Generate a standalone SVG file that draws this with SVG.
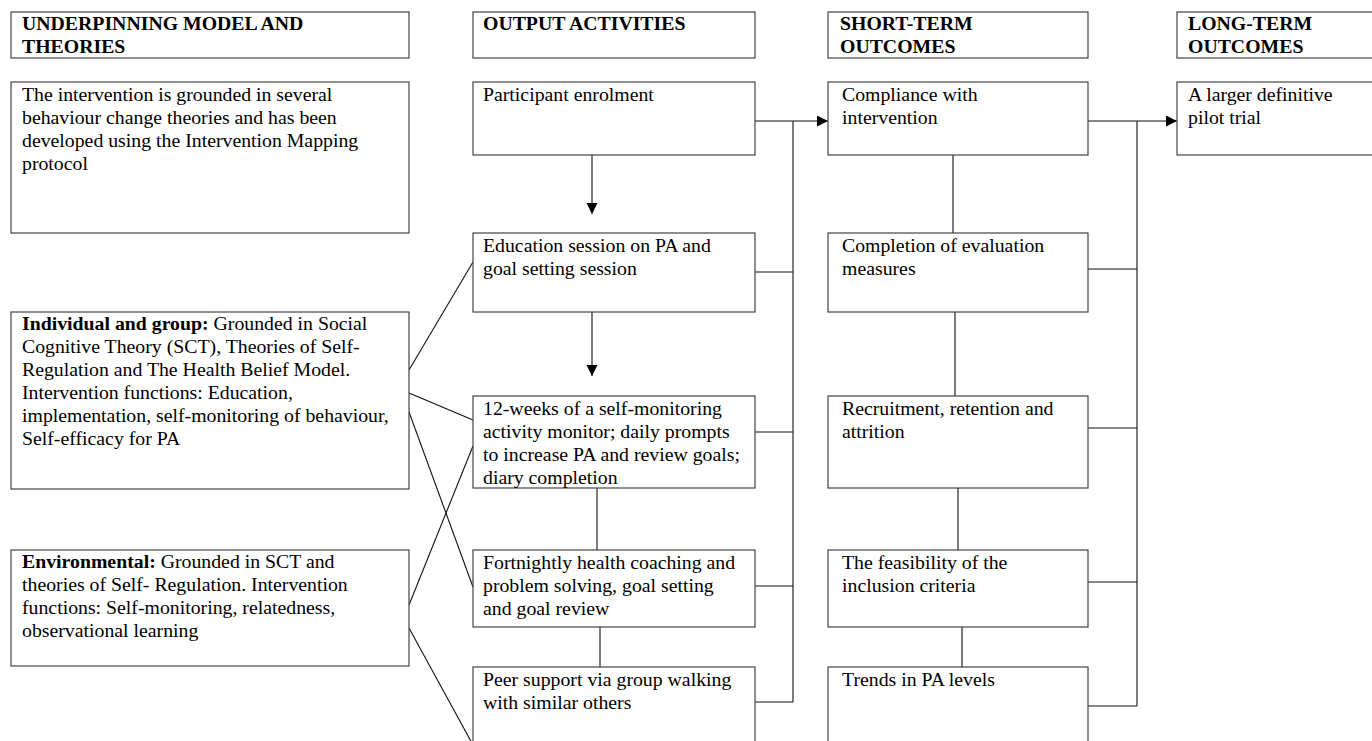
<svg xmlns="http://www.w3.org/2000/svg" width="1372" height="741" viewBox="0 0 1372 741">
<defs>
<marker id="ah" markerUnits="userSpaceOnUse" markerWidth="12" markerHeight="12" refX="11" refY="5.5" orient="auto">
<path d="M0,0 L11,5.5 L0,11 z" fill="#000"/>
</marker>
<style>
.box{fill:#fff;stroke:#444;stroke-width:1.2}
.t{font-family:"Liberation Serif","Times New Roman",serif;font-size:19.8px;fill:#000}
.h{font-weight:bold}
.c{stroke:#111;stroke-width:1.1;fill:none}
</style>
</defs>
<rect width="1372" height="741" fill="#fff"/>

<g id="connectors">
<line class="c" x1="755" y1="121" x2="828" y2="121" marker-end="url(#ah)"/>
<line class="c" x1="793" y1="121" x2="793" y2="702"/>
<line class="c" x1="755" y1="272" x2="793" y2="272"/>
<line class="c" x1="755" y1="432" x2="793" y2="432"/>
<line class="c" x1="755" y1="586" x2="793" y2="586"/>
<line class="c" x1="755" y1="702" x2="793" y2="702"/>
<line class="c" x1="592" y1="155" x2="592" y2="214" marker-end="url(#ah)"/>
<line class="c" x1="592" y1="312" x2="592" y2="376" marker-end="url(#ah)"/>
<line class="c" x1="597" y1="488" x2="597" y2="550"/>
<line class="c" x1="600" y1="627" x2="600" y2="667"/>
<line class="c" x1="1088" y1="121" x2="1177" y2="121" marker-end="url(#ah)"/>
<line class="c" x1="1137" y1="121" x2="1137" y2="706"/>
<line class="c" x1="1088" y1="269" x2="1137" y2="269"/>
<line class="c" x1="1088" y1="428" x2="1137" y2="428"/>
<line class="c" x1="1088" y1="582" x2="1137" y2="582"/>
<line class="c" x1="1088" y1="706" x2="1137" y2="706"/>
<line class="c" x1="953" y1="155" x2="953" y2="233"/>
<line class="c" x1="955" y1="312" x2="955" y2="396"/>
<line class="c" x1="958" y1="488" x2="958" y2="550"/>
<line class="c" x1="962" y1="627" x2="962" y2="667"/>
<line class="c" x1="409" y1="370" x2="473" y2="262"/>
<line class="c" x1="409" y1="393" x2="473" y2="420"/>
<line class="c" x1="409" y1="412" x2="473" y2="587"/>
<line class="c" x1="409" y1="605" x2="473" y2="446"/>
<line class="c" x1="409" y1="628" x2="473" y2="745"/>
</g>

<g id="hdr-underpinning">
<rect class="box" x="11" y="12" width="398" height="46"/>
<text class="t h" x="22" y="30">UNDERPINNING MODEL AND</text>
<text class="t h" x="22" y="53">THEORIES</text>
</g>
<g id="hdr-output">
<rect class="box" x="473" y="12" width="282" height="46"/>
<text class="t h" x="483" y="30">OUTPUT ACTIVITIES</text>
</g>
<g id="hdr-short">
<rect class="box" x="828" y="12" width="260" height="46"/>
<text class="t h" x="840" y="30">SHORT-TERM</text>
<text class="t h" x="840" y="53">OUTCOMES</text>
</g>
<g id="hdr-long">
<rect class="box" x="1177" y="12" width="210" height="46"/>
<text class="t h" x="1188" y="30">LONG-TERM</text>
<text class="t h" x="1188" y="53">OUTCOMES</text>
</g>

<g id="intro">
<rect class="box" x="11" y="82" width="398" height="151"/>
<text class="t" x="22" y="101">The intervention is grounded in several</text>
<text class="t" x="22" y="124">behaviour change theories and has been</text>
<text class="t" x="22" y="147">developed using the Intervention Mapping</text>
<text class="t" x="22" y="170">protocol</text>
</g>
<g id="individual">
<rect class="box" x="11" y="312" width="398" height="177"/>
<text class="t" x="22" y="330"><tspan class="h">Individual and group:</tspan> Grounded in Social</text>
<text class="t" x="22" y="353">Cognitive Theory (SCT), Theories of Self-</text>
<text class="t" x="22" y="376">Regulation and The Health Belief Model.</text>
<text class="t" x="22" y="399">Intervention functions: Education,</text>
<text class="t" x="22" y="422">implementation, self-monitoring of behaviour,</text>
<text class="t" x="22" y="445">Self-efficacy for PA</text>
</g>
<g id="environmental">
<rect class="box" x="11" y="550" width="398" height="116"/>
<text class="t" x="22" y="568"><tspan class="h">Environmental:</tspan> Grounded in SCT and</text>
<text class="t" x="22" y="591">theories of Self- Regulation. Intervention</text>
<text class="t" x="22" y="614">functions: Self-monitoring, relatedness,</text>
<text class="t" x="22" y="637">observational learning</text>
</g>

<g id="enrolment">
<rect class="box" x="473" y="82" width="282" height="73"/>
<text class="t" x="483" y="101">Participant enrolment</text>
</g>
<g id="education">
<rect class="box" x="473" y="233" width="282" height="79"/>
<text class="t" x="483" y="252">Education session on PA and</text>
<text class="t" x="483" y="275">goal setting session</text>
</g>
<g id="monitoring">
<rect class="box" x="473" y="396" width="282" height="92"/>
<text class="t" x="483" y="415">12-weeks of a self-monitoring</text>
<text class="t" x="483" y="438">activity monitor; daily prompts</text>
<text class="t" x="483" y="461">to increase PA and review goals;</text>
<text class="t" x="483" y="484">diary completion</text>
</g>
<g id="coaching">
<rect class="box" x="473" y="550" width="282" height="77"/>
<text class="t" x="483" y="569">Fortnightly health coaching and</text>
<text class="t" x="483" y="592">problem solving, goal setting</text>
<text class="t" x="483" y="615">and goal review</text>
</g>
<g id="peer">
<rect class="box" x="473" y="667" width="282" height="100"/>
<text class="t" x="483" y="686">Peer support via group walking</text>
<text class="t" x="483" y="709">with similar others</text>
</g>

<g id="compliance">
<rect class="box" x="828" y="82" width="260" height="73"/>
<text class="t" x="842" y="101">Compliance with</text>
<text class="t" x="842" y="124">intervention</text>
</g>
<g id="completion">
<rect class="box" x="828" y="233" width="260" height="79"/>
<text class="t" x="842" y="252">Completion of evaluation</text>
<text class="t" x="842" y="275">measures</text>
</g>
<g id="recruitment">
<rect class="box" x="828" y="396" width="260" height="92"/>
<text class="t" x="842" y="415">Recruitment, retention and</text>
<text class="t" x="842" y="438">attrition</text>
</g>
<g id="feasibility">
<rect class="box" x="828" y="550" width="260" height="77"/>
<text class="t" x="842" y="569">The feasibility of the</text>
<text class="t" x="842" y="592">inclusion criteria</text>
</g>
<g id="trends">
<rect class="box" x="828" y="667" width="260" height="100"/>
<text class="t" x="842" y="686">Trends in PA levels</text>
</g>

<g id="larger-trial">
<rect class="box" x="1177" y="82" width="210" height="73"/>
<text class="t" x="1188" y="101">A larger definitive</text>
<text class="t" x="1188" y="124">pilot trial</text>
</g>
</svg>
